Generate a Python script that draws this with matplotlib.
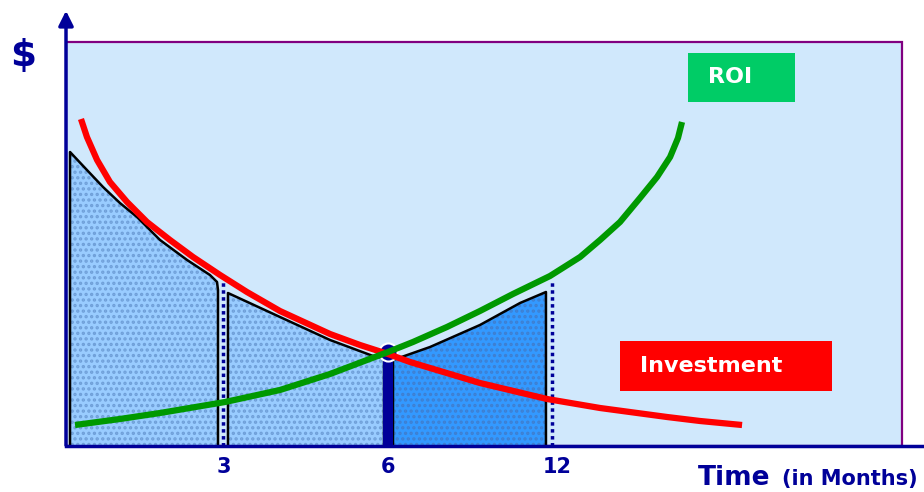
import matplotlib
matplotlib.use('Agg')
import matplotlib.pyplot as plt
from matplotlib.patches import Rectangle

# valores (x en unidades de escala, y en "$")
tick_pos = [0.981, 2.0, 3.05]
tick_labels = ['3', '6', '12']

inv_x = [0.093, 0.130, 0.193, 0.273, 0.379, 0.503, 0.646, 0.789, 0.957, 1.124,
         1.329, 1.640, 1.826, 2.000, 2.137, 2.323, 2.571, 2.988, 3.317, 3.733,
         3.938, 4.199]
inv_y = [81.75, 77.25, 71.5, 66.0, 61.0, 56.0, 51.5, 47.25, 42.75, 38.5,
         33.75, 28.0, 25.25, 23.0, 21.0, 18.75, 15.75, 11.75, 9.5, 7.25,
         6.25, 5.25]

roi_x = [0.056, 0.335, 0.584, 0.988, 1.329, 1.640, 2.000, 2.155, 2.366, 2.571,
         2.776, 3.006, 3.193, 3.317, 3.441, 3.565, 3.671, 3.752, 3.801, 3.826]
roi_y = [5.25, 6.75, 8.25, 11.0, 14.0, 18.0, 23.5, 26.0, 29.75, 33.75,
         38.0, 42.5, 47.25, 51.5, 56.0, 62.0, 67.25, 72.25, 77.0, 81.0]

# areas sombreadas
area1_x = [0.025, 0.025, 0.130, 0.230, 0.335, 0.441, 0.584, 0.752, 0.894, 0.938, 0.944, 0.944]
area1_y = [0.0, 73.5, 69.0, 64.75, 60.75, 57.25, 51.5, 46.5, 42.75, 41.0, 39.0, 0.0]

area2_x = [1.006, 1.006, 1.329, 1.640, 1.907, 1.975, 1.975]
area2_y = [0.0, 38.25, 32.25, 26.5, 22.5, 22.0, 0.0]

area3_x = [2.031, 2.031, 2.261, 2.571, 2.820, 2.981, 2.981]
area3_y = [0.0, 21.5, 24.75, 30.25, 35.75, 38.5, 0.0]

cortes_x = [0.975, 3.019]
cortes_y = [41.0, 41.25]
punto_x, punto_y = 2.0, 23.5

navy = '#000099'

fig = plt.figure(figsize=(9.24, 4.92), dpi=100)
ax = fig.add_axes([66 / 924, 46 / 492, 858 / 924, 438 / 492])
ax.set_xlim(0, 5.329)
ax.set_ylim(0, 109.5)

# fondo del area
ax.add_patch(Rectangle((0, 0), 5.193, 101, facecolor='#d0e8fc',
                       edgecolor='#800080', linewidth=1.6, zorder=0))

plt.rcParams['hatch.linewidth'] = 1.6
for xs, ys, fc, dc in [(area1_x, area1_y, '#99ccff', '#6f9fd8'),
                       (area2_x, area2_y, '#99ccff', '#6f9fd8'),
                       (area3_x, area3_y, '#3399ff', '#3f7fd0')]:
    ax.fill(xs, ys, facecolor=fc, edgecolor='none', zorder=1)
    ax.fill(xs, ys, facecolor='none', edgecolor=dc, hatch='...', linewidth=0, zorder=1.5)
    ax.plot(xs, ys, color='black', linewidth=1.8, zorder=2)

for cx, cy in zip(cortes_x, cortes_y):
    ax.plot([cx, cx], [0, cy], color=navy, linewidth=2.5, linestyle=(0, (1, 1)), zorder=2)

ax.bar(punto_x, punto_y - 1, width=0.06, color=navy, zorder=2.5)
ax.plot(punto_x, punto_y, 'o', markersize=13, markerfacecolor=navy,
        markeredgecolor='white', markeredgewidth=1.5, zorder=2.6)

ax.plot(inv_x, inv_y, color='#ff0000', linewidth=4.5, solid_capstyle='butt',
        solid_joinstyle='round', zorder=3)
ax.plot(roi_x, roi_y, color='#009900', linewidth=4.5, solid_capstyle='butt',
        solid_joinstyle='round', zorder=3.5)

# cajas de leyenda
ax.add_patch(Rectangle((3.863, 86.0), 0.665, 12.25, facecolor='#00cc66', edgecolor='none', zorder=4))
ax.text(3.988, 92.25, 'ROI', color='white', fontsize=16, fontweight='bold',
        va='center', ha='left', zorder=5)
ax.add_patch(Rectangle((3.441, 13.75), 1.317, 12.5, facecolor='#ff0000', edgecolor='none', zorder=4))
ax.text(3.565, 20.0, 'Investment', color='white', fontsize=16, fontweight='bold',
        va='center', ha='left', zorder=5)

# ejes
for s in ['top', 'right', 'left']:
    ax.spines[s].set_visible(False)
ax.spines['bottom'].set_color(navy)
ax.spines['bottom'].set_linewidth(2.5)
ax.spines['bottom'].set_zorder(6)
ax.annotate('', xy=(0, 109.5), xytext=(0, -0.5),
            arrowprops=dict(arrowstyle='-|>', color=navy, lw=2.5, mutation_scale=22),
            annotation_clip=False, zorder=6)

ax.set_xticks(tick_pos)
ax.set_xticklabels(tick_labels, color=navy, fontsize=15, fontweight='bold')
ax.tick_params(axis='x', length=0, pad=8)
ax.set_yticks([])

fig.text(23 / 924, 1 - 56 / 492, r'\$', color=navy, fontsize=27, fontweight='bold',
         ha='center', va='center')
fig.text(770 / 924, 1 - 485 / 492, 'Time', color=navy, fontsize=19, fontweight='bold',
         ha='right', va='baseline')
fig.text(918 / 924, 1 - 485 / 492, '(in Months)', color=navy, fontsize=15, fontweight='bold',
         ha='right', va='baseline')

plt.savefig('out.png', dpi=100)
